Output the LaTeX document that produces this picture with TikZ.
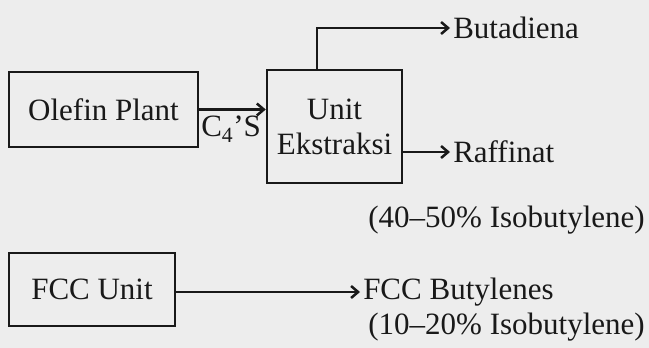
\documentclass[tikz,border=0pt]{standalone}
\usepackage{fontspec}
\setmainfont{Liberation Serif}
\usetikzlibrary{arrows.meta,positioning}

\begin{document}
\begin{tikzpicture}[x=1pt,y=-1pt,>={Straight Barb[length=7pt,width=12pt]},line width=2.5pt,
  font=\fontsize{31}{35}\selectfont,color=black!90]
\tikzset{
  plantbox/.style={draw,inner sep=0pt,align=center},
  product/.style={inner sep=2pt}
}
\fill[black!7] (0,0) rectangle (649,348);
\useasboundingbox (0,0) rectangle (649,348);
% units
\node[plantbox,minimum width=189pt,minimum height=75pt] (olefin) at (103.5,109.5) {Olefin Plant};
\node[plantbox,minimum width=135pt,minimum height=113pt] (ekstraksi) at (334.5,126.5) {Unit\\Ekstraksi};
\node[plantbox,minimum width=166pt,minimum height=73pt] (fcc) at (92,289.5) {FCC Unit};
% products
\node[product,anchor=west] (butadiena) at (450,28) {Butadiena};
\node[product,anchor=west] (raffinat) at (450,152) {Raffinat};
\node[product,anchor=west] (butylenes) at (360,292) {FCC Butylenes};
\node[product,anchor=east] (iso1) at (648,220) {(40--50\% Isobutylene)};
\node[product,anchor=east] (iso2) at (648,327) {(10--20\% Isobutylene)};
\node[product,anchor=north west] (c4) at (198,113) {C\textsubscript{4}’S};
% streams
\draw[->] (olefin.east) -- (olefin.east -| ekstraksi.west);
\draw[->] ([xshift=-17.5pt]ekstraksi.north) |- (butadiena.west);
\draw[->] (ekstraksi.east |- raffinat.west) -- (raffinat.west);
\draw[->] (fcc.east |- butylenes.west) -- (butylenes.west);
\end{tikzpicture}
\end{document}
